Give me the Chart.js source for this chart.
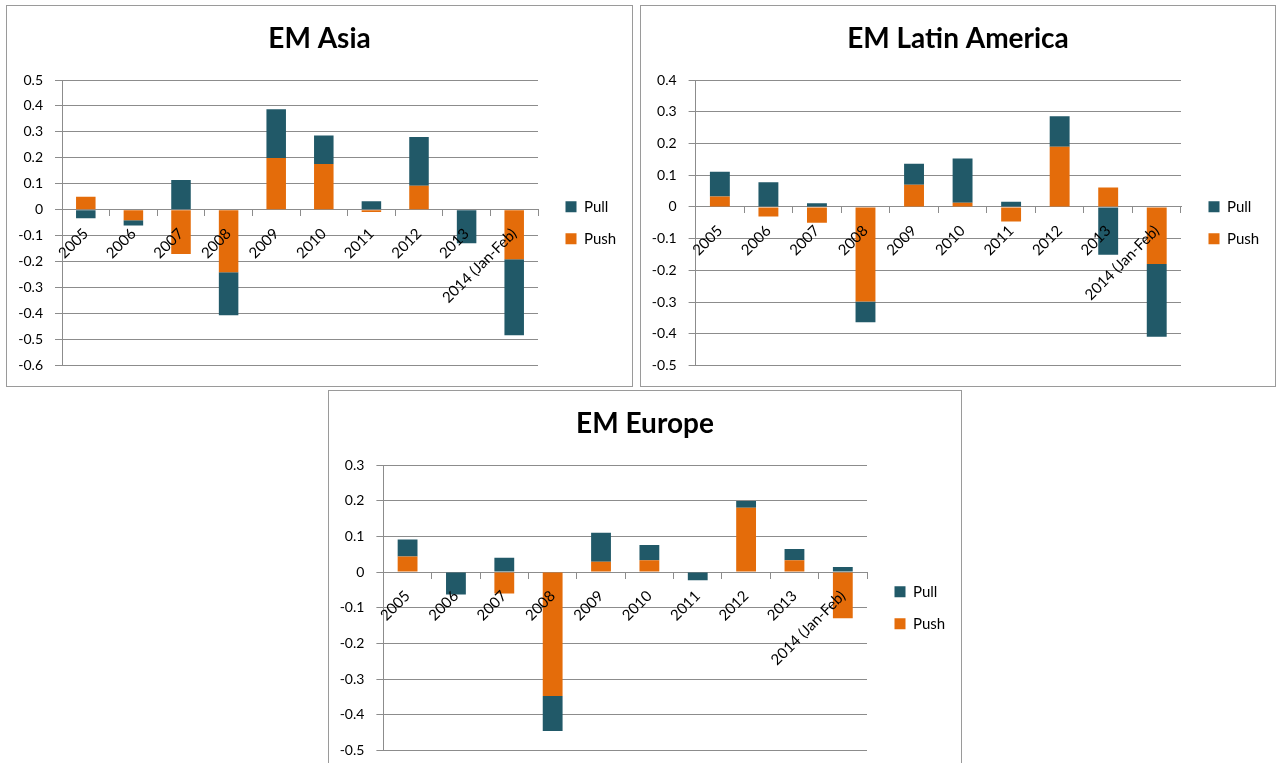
<!DOCTYPE html>
<html>
<head>
<meta charset="utf-8">
<script src="https://cdn.jsdelivr.net/npm/chart.js@4/dist/chart.umd.min.js"></script>
<style>
  html, body { margin: 0; padding: 0; background: #fff; width: 1276px; height: 763px; overflow: hidden; }
  .panel { position: absolute; box-sizing: border-box; border: 1px solid #9a9a9a; background: #fff; }
  .panel canvas { display: block; }
</style>
</head>
<body>
<div class="panel" style="left:6px;top:5px;width:627px;height:382px"><canvas id="asia" width="625" height="380"></canvas></div>
<div class="panel" style="left:640px;top:5px;width:636px;height:382px"><canvas id="latam" width="634" height="380"></canvas></div>
<div class="panel" style="left:328px;top:390px;width:634px;height:382px"><canvas id="europe" width="632" height="380"></canvas></div>
<script>
// Contributions to capital flows, by year
const CATEGORIES = ['2005', '2006', '2007', '2008', '2009', '2010', '2011', '2012', '2013', '2014 (Jan-Feb)'];

const ASIA_PUSH = [0.05, -0.04, -0.17, -0.24, 0.2, 0.176, -0.008, 0.093, 0, -0.19];
const ASIA_PULL = [-0.032, -0.02, 0.115, -0.166, 0.187, 0.11, 0.033, 0.187, -0.129, -0.293];

const LATAM_PUSH = [0.033, -0.03, -0.05, -0.298, 0.07, 0.013, -0.046, 0.19, 0.061, -0.18];
const LATAM_PULL = [0.078, 0.078, 0.012, -0.065, 0.066, 0.14, 0.016, 0.096, -0.151, -0.229];

const EUROPE_PUSH = [0.044, 0, -0.06, -0.347, 0.029, 0.033, 0, 0.18, 0.033, -0.129];
const EUROPE_PULL = [0.047, -0.063, 0.04, -0.098, 0.081, 0.043, -0.023, 0.019, 0.032, 0.014];

// value axis ranges (step 0.1)
const ASIA_RANGE = [-0.6, 0.5];
const LATAM_RANGE = [-0.5, 0.4];
const EUROPE_RANGE = [-0.5, 0.3];

const PULL_COLOR = '#215968';
const PUSH_COLOR = '#E46C0A';
const GRID_COLOR = '#8c8c8c';

Chart.defaults.font.family = 'Lato, "DejaVu Sans", sans-serif';
Chart.defaults.color = '#000';

// Keeps the legend column at a fixed width, nudges it right of the plot
// and centres it on the plot area vertically
const legendPlacement = {
  id: 'legendPlacement',
  afterInit(chart, args, opts) {
    const legend = chart.legend;
    const baseFit = legend.fit;
    legend.fit = function () {
      baseFit.call(this);
      this.width = opts.width;
    };
  },
  afterLayout(chart, args, opts) {
    const legend = chart.legend;
    const area = chart.chartArea;
    legend.left += opts.shift;
    legend.right += opts.shift;
    legend.top = area.top;
    legend.bottom = area.bottom;
    legend.height = area.bottom - area.top;
  }
};

function buildChart(id, title, push, pull, range, axisWidth) {
  return new Chart(document.getElementById(id), {
    type: 'bar',
    data: {
      labels: CATEGORIES,
      datasets: [
        { label: 'Push', data: push, backgroundColor: PUSH_COLOR, borderWidth: 0 },
        { label: 'Pull', data: pull, backgroundColor: PULL_COLOR, borderWidth: 0 }
      ]
    },
    options: {
      responsive: false,
      animation: false,
      devicePixelRatio: 1,
      layout: { padding: { top: 0, bottom: 19, left: 0, right: 0 } },
      datasets: { bar: { categoryPercentage: 1, barPercentage: 0.41 } },
      plugins: {
        title: {
          display: true,
          text: title,
          font: { size: 28, weight: 'bold' },
          color: '#000',
          padding: { top: 16, bottom: 24.4 }
        },
        legend: {
          position: 'right',
          reverse: true,
          labels: { boxWidth: 11, boxHeight: 11, padding: 17, font: { size: 15 }, color: '#000' }
        },
        legendPlacement: { width: 94, shift: 10.5 },
        tooltip: { enabled: false }
      },
      scales: {
        x: {
          stacked: true,
          position: { y: 0 },
          offset: true,
          grid: { display: true, drawOnChartArea: false, drawTicks: true, tickLength: 6, offset: true, color: GRID_COLOR },
          border: { color: GRID_COLOR },
          ticks: { autoSkip: false, minRotation: 45, maxRotation: 45, padding: 9, font: { size: 15 }, z: 1 }
        },
        y: {
          stacked: true,
          min: range[0],
          max: range[1],
          afterFit(scale) { scale.width = axisWidth; },
          grid: { color: GRID_COLOR, tickLength: 7 },
          border: { color: GRID_COLOR },
          ticks: {
            stepSize: 0.1,
            padding: 12,
            font: { size: 14 },
            callback: v => String(Math.round(v * 10) / 10)
          }
        }
      }
    },
    plugins: [legendPlacement]
  });
}

buildChart('asia', 'EM Asia', ASIA_PUSH, ASIA_PULL, ASIA_RANGE, 55);
buildChart('latam', 'EM Latin America', LATAM_PUSH, LATAM_PULL, LATAM_RANGE, 54.6);
buildChart('europe', 'EM Europe', EUROPE_PUSH, EUROPE_PULL, EUROPE_RANGE, 54.4);
</script>
</body>
</html>
